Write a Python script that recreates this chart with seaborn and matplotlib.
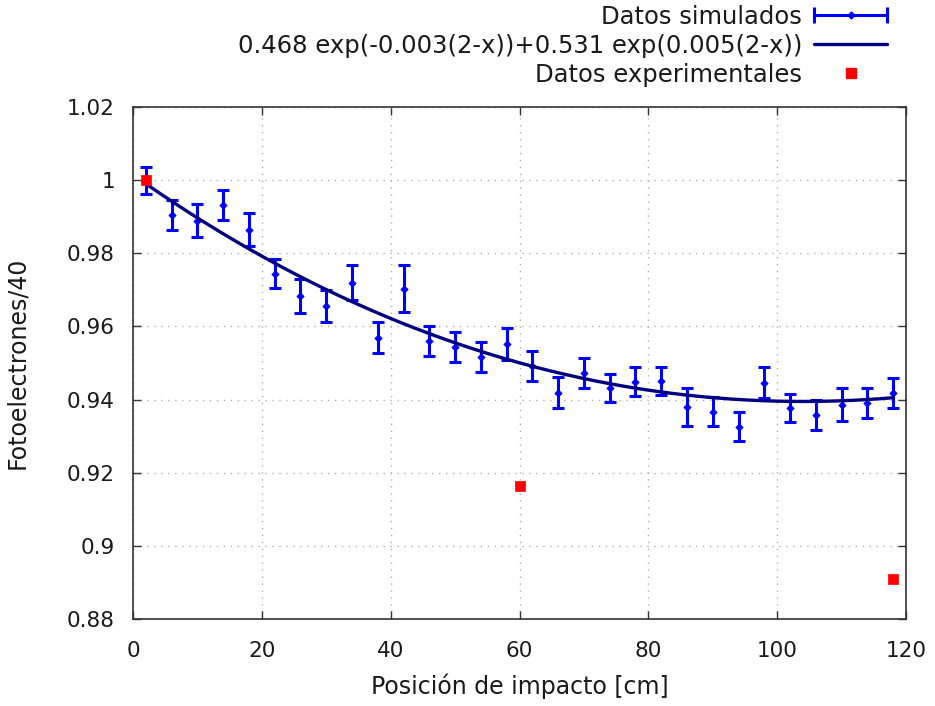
import numpy as np
import pandas as pd
import matplotlib
matplotlib.use("Agg")
import matplotlib.pyplot as plt
import seaborn as sns
from matplotlib.lines import Line2D
from matplotlib.legend_handler import HandlerTuple, HandlerLine2D

# ---- data ----
pos_sim = [2, 6, 10, 14, 18, 22, 26, 30, 34, 38, 42, 46, 50, 54, 58,
           62, 66, 70, 74, 78, 82, 86, 90, 94, 98, 102, 106, 110, 114, 118]
val_sim = [1.0000, 0.9905, 0.9889, 0.9932, 0.9864, 0.9744, 0.9684, 0.9656, 0.9719, 0.9569,
           0.9703, 0.9561, 0.9544, 0.9517, 0.9552, 0.9492, 0.9419, 0.9473, 0.9432, 0.9449,
           0.9451, 0.9380, 0.9367, 0.9326, 0.9446, 0.9378, 0.9358, 0.9386, 0.9391, 0.9419]
err_sim = [0.0037, 0.0041, 0.0045, 0.0042, 0.0045, 0.0040, 0.0046, 0.0044, 0.0048, 0.0042,
           0.0064, 0.0041, 0.0041, 0.0041, 0.0045, 0.0042, 0.0042, 0.0041, 0.0038, 0.0040,
           0.0038, 0.0051, 0.0040, 0.0040, 0.0042, 0.0038, 0.0040, 0.0045, 0.0041, 0.0041]

pos_exp = [2, 60, 118]
val_exp = [1.0000, 0.9165, 0.8910]

# fit parameters (displayed rounded in the legend)
fit_a, fit_b = 0.468, -0.0025
fit_c, fit_d = 0.531, 0.0045
fit_x0 = 2
fit_range = (2, 118)

label_sim = "Datos simulados"
label_fit = "0.468 exp(-0.003(2-x))+0.531 exp(0.005(2-x))"
label_exp = "Datos experimentales"
xlabel = "Posición de impacto [cm]"
ylabel = "Fotoelectrones/40"
xticks = [0, 20, 40, 60, 80, 100, 120]
yticks = [0.88, 0.90, 0.92, 0.94, 0.96, 0.98, 1.00, 1.02]
yticklabels = ["0.88", "0.9", "0.92", "0.94", "0.96", "0.98", "1", "1.02"]

# ---- style ----
sns.set_style("white")
plt.rcParams["font.family"] = ["DejaVu Sans"]
FS_TICK = 15.5
FS_LAB = 17
FS_LEG = 17.5
blue = "#0000ff"
navy = "#000080"
red = "#ff0000"

fig = plt.figure(figsize=(9.35, 7.06), dpi=100)
W, H = 935, 706
L, R, T, B = 133, 906, 107, 619
ax = fig.add_axes([L / W, (H - B) / H, (R - L) / W, (B - T) / H])

df_sim = pd.DataFrame({"x": pos_sim, "y": val_sim, "e": err_sim})
df_exp = pd.DataFrame({"x": pos_exp, "y": val_exp})
xf = np.linspace(fit_range[0], fit_range[1], 300)
df_fit = pd.DataFrame({"x": xf,
                       "y": fit_a * np.exp(fit_b * (fit_x0 - xf)) + fit_c * np.exp(fit_d * (fit_x0 - xf))})

# error bars
ax.errorbar(df_sim["x"], df_sim["y"], yerr=df_sim["e"], fmt="none", ecolor=blue,
            elinewidth=2.2, capsize=4.5, capthick=2.2, zorder=3)
sns.scatterplot(data=df_sim, x="x", y="y", ax=ax, marker="D", s=14, color=blue,
                edgecolor=blue, linewidth=0.5, zorder=4, legend=False)
sns.lineplot(data=df_fit, x="x", y="y", ax=ax, color=navy, linewidth=2.4, zorder=5,
             legend=False)
sns.scatterplot(data=df_exp, x="x", y="y", ax=ax, marker="s", s=55, color=red,
                edgecolor=red, linewidth=0.5, zorder=6, legend=False)

ax.set_xlim(0, 120)
ax.set_ylim(0.88, 1.02)
ax.set_xticks(xticks)
ax.set_xticklabels([str(t) for t in xticks])
ax.set_yticks(yticks)
ax.set_yticklabels(yticklabels)
ax.tick_params(axis="both", which="both", direction="in", length=6, width=1,
               labelsize=FS_TICK, top=True, right=True, bottom=True, left=True,
               colors="#333333", labelcolor="#1a1a1a", pad=13)
ax.tick_params(axis="x", pad=16)
ax.grid(True, color="#b0b0b0", linestyle=(0, (1, 4)), linewidth=1.0)
for s in ax.spines.values():
    s.set_visible(True)
    s.set_color("#333333")
    s.set_linewidth(1.2)

ax.set_xlabel(xlabel, fontsize=FS_LAB, color="#1a1a1a", labelpad=9)
ax.set_ylabel(ylabel, fontsize=FS_LAB, color="#1a1a1a", labelpad=27)

# legend
h_line = Line2D([], [], color=blue, linewidth=2.2, marker="D", markersize=3.5)
h_caps = Line2D([], [], color=blue, linestyle="none", marker="|", markersize=11, markeredgewidth=2.2)
h_fit = Line2D([], [], color=navy, linewidth=2.4)
h_exp = Line2D([], [], color=red, linestyle="none", marker="s", markersize=6.5)
leg = fig.legend([(h_line, h_caps), h_fit, h_exp], [label_sim, label_fit, label_exp],
                 handler_map={h_caps: HandlerLine2D(numpoints=2, marker_pad=0),
                              tuple: HandlerTuple(ndivide=1, pad=0)},
                 loc="upper right", bbox_to_anchor=(887 / W, 1 - 5 / H),
                 frameon=False, markerfirst=False, fontsize=FS_LEG,
                 handlelength=3.0, handletextpad=0.5, labelspacing=0.2,
                 borderpad=0, borderaxespad=0)
for t in leg.get_texts():
    t.set_color("#1a1a1a")

fig.savefig("out.png", dpi=100)
